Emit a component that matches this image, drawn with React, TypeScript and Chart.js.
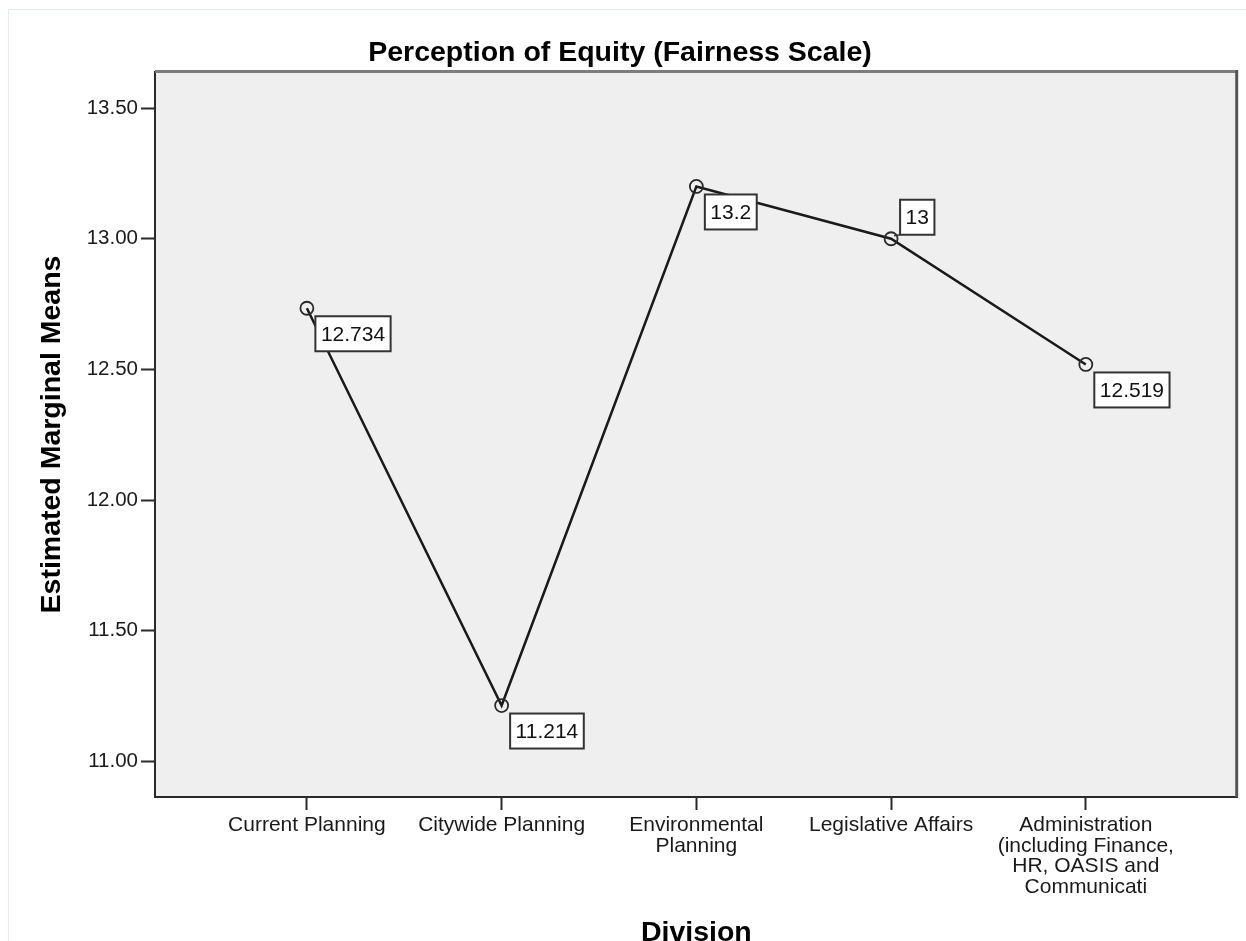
import React, { useEffect, useRef } from "react";
import { Chart, registerables } from "chart.js";

Chart.register(...registerables);

// ---- data ----
const categoryLines: string[][] = [
  ["Current Planning"],
  ["Citywide Planning"],
  ["Environmental", "Planning"],
  ["Legislative Affairs"],
  ["Administration", "(including Finance,", "HR, OASIS and", "Communicati"],
];
const meanValues: number[] = [12.734, 11.214, 13.2, 13, 12.519];
const yTickValues: number[] = [11.0, 11.5, 12.0, 12.5, 13.0, 13.5];

const chartTitle = "Perception of Equity (Fairness Scale)";
const yAxisTitle = "Estimated Marginal Means";
const xAxisTitle = "Division";

const FONT = '"Liberation Sans", Arial, Helvetica, sans-serif';

const W = 1246;
const H = 941;

const decorPlugin = {
  id: "decor",
  beforeDraw(chart: any) {
    const { ctx, chartArea: a } = chart;
    ctx.save();
    ctx.fillStyle = "#efefef";
    ctx.fillRect(a.left, a.top, a.right - a.left, a.bottom - a.top);
    ctx.restore();
  },
  afterDraw(chart: any) {
    const { ctx, chartArea: a } = chart;
    ctx.save();
    // top & right frame lines
    ctx.strokeStyle = "#7d7d7d";
    ctx.lineWidth = 3;
    ctx.beginPath();
    ctx.moveTo(a.left, a.top - 0.5);
    ctx.lineTo(a.right, a.top - 0.5);
    ctx.stroke();
    ctx.strokeStyle = "#555";
    ctx.beginPath();
    ctx.moveTo(a.right - 1, a.top - 2);
    ctx.lineTo(a.right - 1, a.bottom);
    ctx.stroke();

    // titles
    ctx.fillStyle = "#000";
    ctx.font = `bold 28.5px ${FONT}`;
    ctx.textAlign = "center";
    ctx.textBaseline = "alphabetic";
    ctx.fillText(chartTitle, chart.width / 2 - 3, 61);
    ctx.fillText(xAxisTitle, (a.left + a.right) / 2, 941);
    ctx.translate(a.left - 103, (a.top + a.bottom) / 2);
    ctx.rotate(-Math.PI / 2);
    ctx.textBaseline = "middle";
    ctx.fillText(yAxisTitle, 0, 0);
    ctx.restore();
  },
};

const valueLabelPlugin = {
  id: "valueLabels",
  afterDatasetsDraw(chart: any, _args: any, opts: any) {
    const { ctx } = chart;
    const meta = chart.getDatasetMeta(0);
    const data = chart.data.datasets[0].data as any[];
    const above: number[] = opts.above || [];
    ctx.save();
    ctx.font = `21px ${FONT}`;
    meta.data.forEach((pt: any, i: number) => {
      const text = String(data[i].y);
      const tw = ctx.measureText(text).width;
      const bw = tw + 11;
      const bh = 35;
      let bx: number, by: number;
      if (above.includes(i)) {
        bx = pt.x + 9;
        by = pt.y - 4 - bh;
        ctx.strokeStyle = "#333";
        ctx.lineWidth = 1.5;
        ctx.beginPath();
        ctx.moveTo(pt.x + 3, pt.y - 3);
        ctx.lineTo(bx, by + bh);
        ctx.stroke();
      } else {
        bx = pt.x + 8.5;
        by = pt.y + 8;
      }
      ctx.fillStyle = "#fff";
      ctx.fillRect(bx, by, bw, bh);
      ctx.strokeStyle = "#333";
      ctx.lineWidth = 2;
      ctx.strokeRect(bx, by, bw, bh);
      ctx.fillStyle = "#111";
      ctx.textAlign = "center";
      ctx.textBaseline = "middle";
      ctx.fillText(text, bx + bw / 2, by + bh / 2 + 1);
    });
    ctx.restore();
  },
};

export default function App() {
  const canvasRef = useRef<HTMLCanvasElement | null>(null);

  useEffect(() => {
    const canvas = canvasRef.current;
    if (!canvas) return;
    const points = meanValues.map((v, i) => ({ x: i, y: v }));
    const chart = new Chart(canvas, {
      type: "line",
      data: {
        datasets: [
          {
            data: points,
            borderColor: "#1a1a1a",
            borderWidth: 2.5,
            tension: 0,
            pointRadius: 6.5,
            pointHoverRadius: 6.5,
            pointBorderWidth: 1.8,
            pointBorderColor: "#2a2a2a",
            pointBackgroundColor: "rgba(0,0,0,0)",
            fill: false,
          },
        ],
      },
      plugins: [decorPlugin, valueLabelPlugin],
      options: {
        responsive: false,
        animation: false,
        devicePixelRatio: 1,
        layout: { padding: { top: 72, right: 1, left: 0, bottom: 0 } },
        plugins: {
          legend: { display: false },
          title: { display: false },
          tooltip: { enabled: false },
          valueLabels: { above: [3] },
        } as any,
        scales: {
          x: {
            type: "linear",
            min: -0.78,
            max: 4.78,
            afterBuildTicks: (scale: any) => {
              scale.ticks = categoryLines.map((_, i) => ({ value: i }));
            },
            afterFit: (scale: any) => {
              scale.height = H - 797;
            },
            border: { display: true, color: "#2a2a2a", width: 2 },
            grid: {
              display: true,
              drawOnChartArea: false,
              drawTicks: true,
              tickLength: 13,
              tickWidth: 2,
              tickColor: "#2a2a2a",
            },
            ticks: {
              autoSkip: false,
              maxRotation: 0,
              minRotation: 0,
              padding: 5,
              color: "#1a1a1a",
              font: { family: FONT, size: 21, lineHeight: 0.98 },
              callback: (v: any) => categoryLines[Math.round(Number(v))] || "",
            },
          },
          y: {
            type: "linear",
            min: 10.864,
            max: 13.638,
            afterBuildTicks: (scale: any) => {
              scale.ticks = yTickValues.map((v) => ({ value: v }));
            },
            afterFit: (scale: any) => {
              scale.width = 155;
            },
            border: { display: true, color: "#2a2a2a", width: 2 },
            grid: {
              display: true,
              drawOnChartArea: false,
              drawTicks: true,
              tickLength: 14,
              tickWidth: 2,
              tickColor: "#2a2a2a",
            },
            ticks: {
              padding: 3,
              color: "#1a1a1a",
              font: { family: FONT, size: 20.5 },
              callback: (v: any) => Number(v).toFixed(2),
            },
          },
        },
      } as any,
    });
    return () => chart.destroy();
  }, []);

  return (
    <div
      style={{
        position: "fixed",
        left: 0,
        top: 0,
        width: W,
        height: H,
        overflow: "hidden",
        background: "#fff",
      }}
    >
      <div
        style={{
          position: "absolute",
          left: 8,
          top: 9,
          width: 1260,
          height: 960,
          border: "1px solid #e2ebf7",
          boxSizing: "border-box",
        }}
      />
      <canvas
        ref={canvasRef}
        width={W}
        height={H}
        style={{ position: "absolute", left: 0, top: 0, width: W, height: H }}
      />
    </div>
  );
}
